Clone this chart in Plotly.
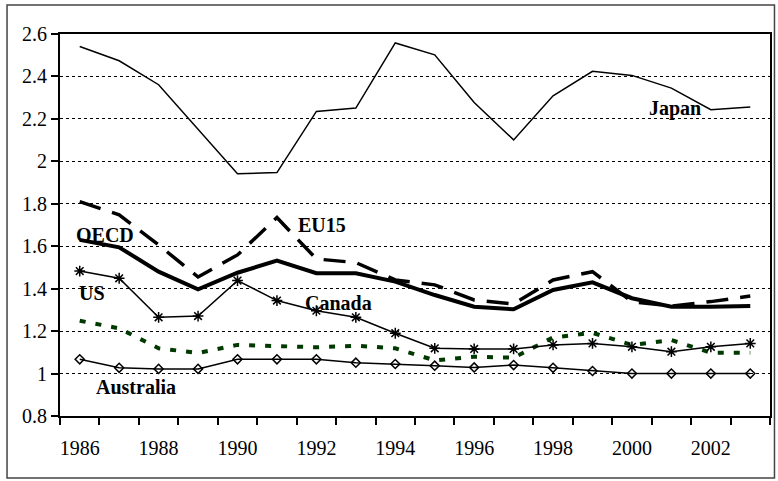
import plotly.graph_objects as go

years = list(range(1986, 2004))
japan = [2.541, 2.474, 2.361, 2.150, 1.941, 1.947, 2.235, 2.251, 2.558, 2.502,
         2.277, 2.101, 2.309, 2.424, 2.405, 2.345, 2.243, 2.256]
oecd = [1.630, 1.595, 1.480, 1.397, 1.475, 1.532, 1.473, 1.473, 1.433, 1.370,
        1.315, 1.303, 1.394, 1.430, 1.355, 1.315, 1.315, 1.318]
eu15 = [1.810, 1.748, 1.606, 1.455, 1.559, 1.735, 1.540, 1.523, 1.441, 1.418,
        1.347, 1.328, 1.441, 1.480, 1.339, 1.318, 1.339, 1.365]
us = [1.483, 1.449, 1.265, 1.271, 1.438, 1.344, 1.296, 1.265, 1.190, 1.119,
      1.116, 1.116, 1.135, 1.142, 1.126, 1.103, 1.126, 1.142]
canada = [1.249, 1.213, 1.119, 1.097, 1.135, 1.130, 1.124, 1.131, 1.119, 1.062,
          1.079, 1.075, 1.170, 1.192, 1.135, 1.158, 1.098, 1.098]
australia = [1.067, 1.027, 1.022, 1.022, 1.067, 1.067, 1.067, 1.051, 1.045, 1.037,
             1.029, 1.040, 1.027, 1.012, 1.0, 1.0, 1.0, 1.0]

labels = ["Japan", "OECD", "EU15", "US", "Canada", "Australia"]
label_x = [2001.1, 1986.64, 1992.13, 1986.31, 1992.56, 1987.42]
label_y = [2.251, 1.655, 1.70, 1.378, 1.331, 0.935]

tick_years = list(range(1986, 2004, 2))
boundaries = [y - 0.5 for y in range(1986, 2005)]
y_ticks = [0.8, 1.0, 1.2, 1.4, 1.6, 1.8, 2.0, 2.2, 2.4, 2.6]

FONT = "Liberation Serif"

fig = go.Figure()
fig.add_trace(go.Scatter(x=years, y=australia, mode="lines+markers",
                         line=dict(color="black", width=1.5),
                         marker=dict(symbol="diamond-open", size=7, color="black",
                                     line=dict(width=1.5, color="black"))))
fig.add_trace(go.Scatter(x=years, y=canada, mode="lines",
                         line=dict(color="#003a00", width=4, dash="6px,10px")))
fig.add_trace(go.Scatter(x=years, y=us, mode="lines+markers",
                         line=dict(color="black", width=1.5),
                         marker=dict(symbol="asterisk-open", size=9, color="black",
                                     line=dict(width=1.5, color="black"))))
fig.add_trace(go.Scatter(x=years, y=japan, mode="lines",
                         line=dict(color="black", width=1.5)))
fig.add_trace(go.Scatter(x=years, y=oecd, mode="lines",
                         line=dict(color="black", width=4)))
fig.add_trace(go.Scatter(x=years, y=eu15, mode="lines",
                         line=dict(color="black", width=3.5, dash="22px,12px")))

for t, lx, ly in zip(labels, label_x, label_y):
    fig.add_annotation(x=lx, y=ly, text="<b>%s</b>" % t, showarrow=False,
                       font=dict(family=FONT, size=20, color="black"))

fig.add_shape(type="rect", xref="paper", yref="paper",
              x0=-0.0746, x1=1.0063, y0=-0.162, y1=1.076,
              line=dict(color="#444444", width=1.5))

fig.update_layout(
    width=778, height=481,
    margin=dict(l=60, r=7.5, t=34, b=65),
    paper_bgcolor="white", plot_bgcolor="white",
    showlegend=False,
    font=dict(family=FONT, size=20, color="black"),
)
fig.update_xaxes(range=[1985.5, 2003.5], tickmode="array", tickvals=tick_years,
                 ticktext=[str(y) for y in tick_years], ticks="",
                 showgrid=False, zeroline=False, automargin=False,
                 showline=True, linecolor="black", linewidth=1.5, mirror=True,
                 ticklabelstandoff=13,
                 minor=dict(tickmode="array", tickvals=boundaries, ticks="outside",
                            ticklen=7, tickwidth=1.5, tickcolor="black", showgrid=False),
                 tickfont=dict(family=FONT, size=20, color="black"))
fig.update_yaxes(range=[0.8, 2.6], tickmode="array", tickvals=y_ticks,
                 ticktext=["0.8", "1", "1.2", "1.4", "1.6", "1.8", "2", "2.2", "2.4", "2.6"],
                 ticks="outside", ticklen=7, tickwidth=1.5, tickcolor="black",
                 showgrid=True, gridcolor="black", griddash="dot", gridwidth=1,
                 zeroline=False, automargin=False,
                 showline=True, linecolor="black", linewidth=2, mirror=True,
                 tickfont=dict(family=FONT, size=20, color="black"))

fig.write_html("out.html", config={"displayModeBar": False},
               post_script="document.body.style.margin='0';document.body.style.overflow='hidden';")
